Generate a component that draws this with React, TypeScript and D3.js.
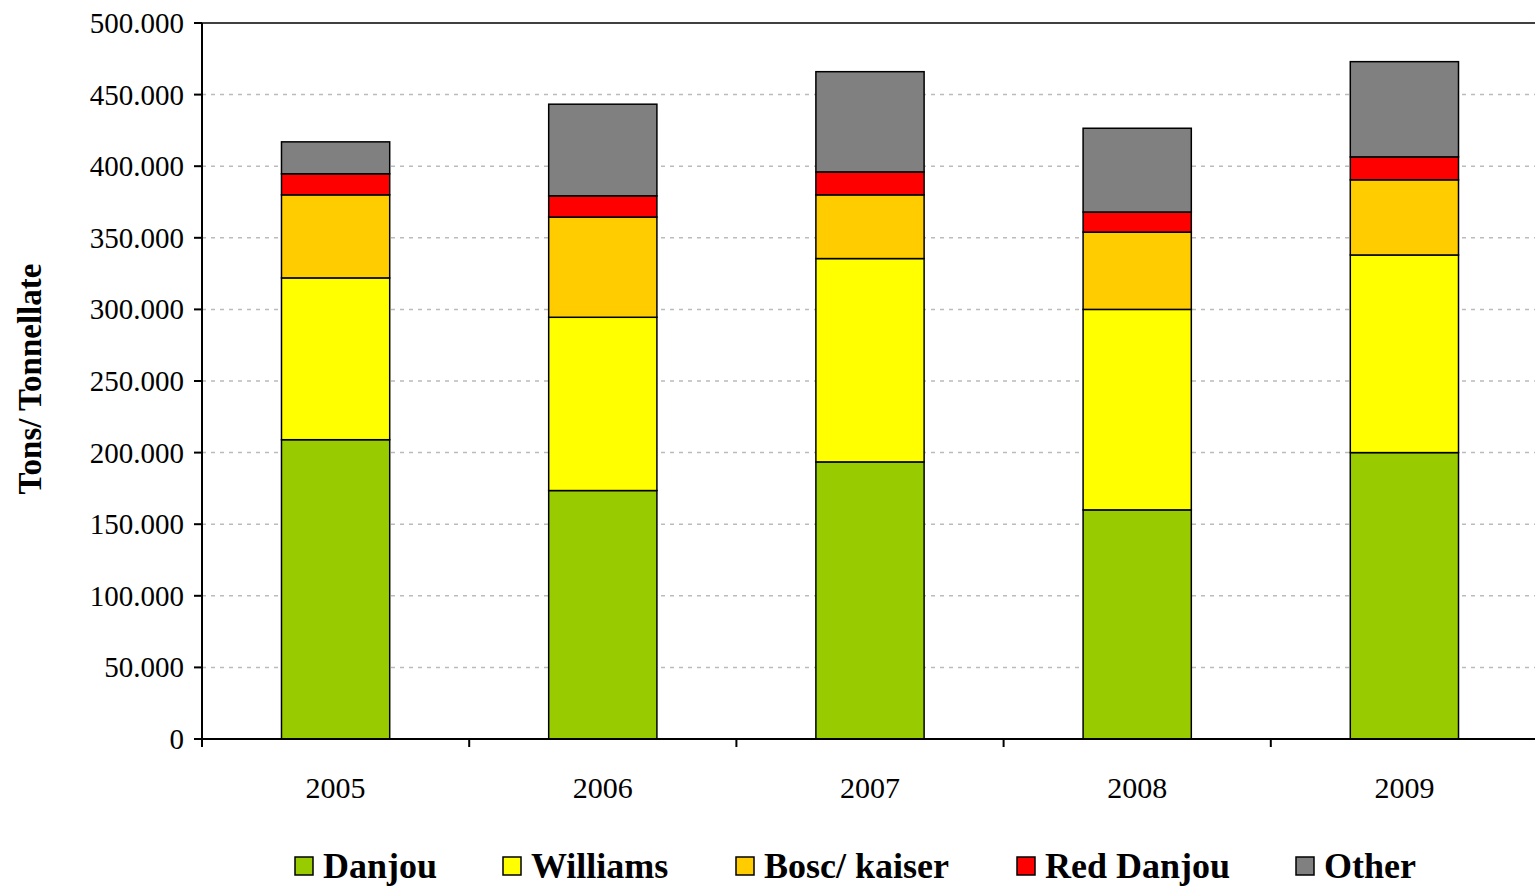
import React from "react";
import * as d3 from "d3";

const years = ["2005", "2006", "2007", "2008", "2009"];
const seriesNames = ["Danjou", "Williams", "Bosc/ kaiser", "Red Danjou", "Other"];
const seriesColors = ["#99CC00", "#FFFF00", "#FFCC00", "#FF0000", "#808080"];
const danjou = [209000, 173500, 193500, 160000, 200000];
const williams = [113000, 121000, 142000, 140000, 138000];
const bosc = [58000, 70000, 44500, 54000, 52500];
const redDanjou = [14700, 14800, 16000, 14000, 16000];
const other = [22300, 64000, 70000, 58500, 66500];
const yTicks = [0, 50000, 100000, 150000, 200000, 250000, 300000, 350000, 400000, 450000, 500000];

const W = 1535, H = 888;
const left = 202, right = 1538, top = 23, bottom = 739;

export default function App() {
  const data = years.map((y, i) => ({
    year: y,
    "Danjou": danjou[i],
    "Williams": williams[i],
    "Bosc/ kaiser": bosc[i],
    "Red Danjou": redDanjou[i],
    "Other": other[i],
  }));
  const stack = d3.stack<any>().keys(seriesNames)(data);
  const x = d3.scaleBand().domain(years).range([left, right]).paddingInner(0.595).paddingOuter(0.2975);
  const y = d3.scaleLinear().domain([0, 500000]).range([bottom, top]);
  const step = (right - left) / years.length;
  const fmt = (v: number) => d3.format(",")(v).replace(/,/g, ".");
  const font = "'Liberation Serif', 'Times New Roman', serif";

  const legendX = [295, 503, 736, 1017, 1296];

  return (
    <svg width={W} height={H} style={{ position: "absolute", left: 0, top: 0, background: "#fff" }} fontFamily={font}>
      {yTicks.filter(t => t > 0 && t < 500000).map(t => (
        <line key={"g" + t} x1={left} x2={W} y1={y(t)} y2={y(t)} stroke="#BBBBBB" strokeWidth={1.5} strokeDasharray="4,5" />
      ))}
      <line x1={left} x2={W} y1={top} y2={top} stroke="#000" strokeWidth={1.5} />
      {stack.map((s, si) => (
        <g key={si}>
          {s.map((d, i) => (
            <rect key={i} x={x(years[i])} width={x.bandwidth()} y={y(d[1])} height={y(d[0]) - y(d[1])}
              fill={seriesColors[si]} stroke="#000" strokeWidth={1.5} />
          ))}
        </g>
      ))}
      <line x1={left} x2={left} y1={top} y2={bottom} stroke="#000" strokeWidth={2} />
      <line x1={left} x2={W} y1={bottom} y2={bottom} stroke="#000" strokeWidth={2} />
      {yTicks.map(t => (
        <g key={"t" + t}>
          <line x1={left - 8} x2={left} y1={y(t)} y2={y(t)} stroke="#000" strokeWidth={2} />
          <text x={184} y={y(t)} textAnchor="end" dominantBaseline="central" fontSize={29} fill="#000">{fmt(t)}</text>
        </g>
      ))}
      {d3.range(years.length + 1).map(i => (
        <line key={"xt" + i} x1={left + i * step} x2={left + i * step} y1={bottom} y2={bottom + 8} stroke="#000" strokeWidth={2} />
      ))}
      {years.map(yr => (
        <text key={yr} x={(x(yr) as number) + x.bandwidth() / 2} y={798} textAnchor="middle" fontSize={30} fill="#000">{yr}</text>
      ))}
      <text transform={`translate(41,379) rotate(-90)`} textAnchor="middle" fontSize={33} fontWeight="bold" fill="#000">Tons/ Tonnellate</text>
      {seriesNames.map((n, i) => (
        <g key={n}>
          <rect x={legendX[i]} y={857} width={18} height={18} fill={seriesColors[i]} stroke="#000" strokeWidth={1.5} />
          <text x={legendX[i] + 28} y={878} fontSize={36} fontWeight="bold" fill="#000">{n}</text>
        </g>
      ))}
    </svg>
  );
}
